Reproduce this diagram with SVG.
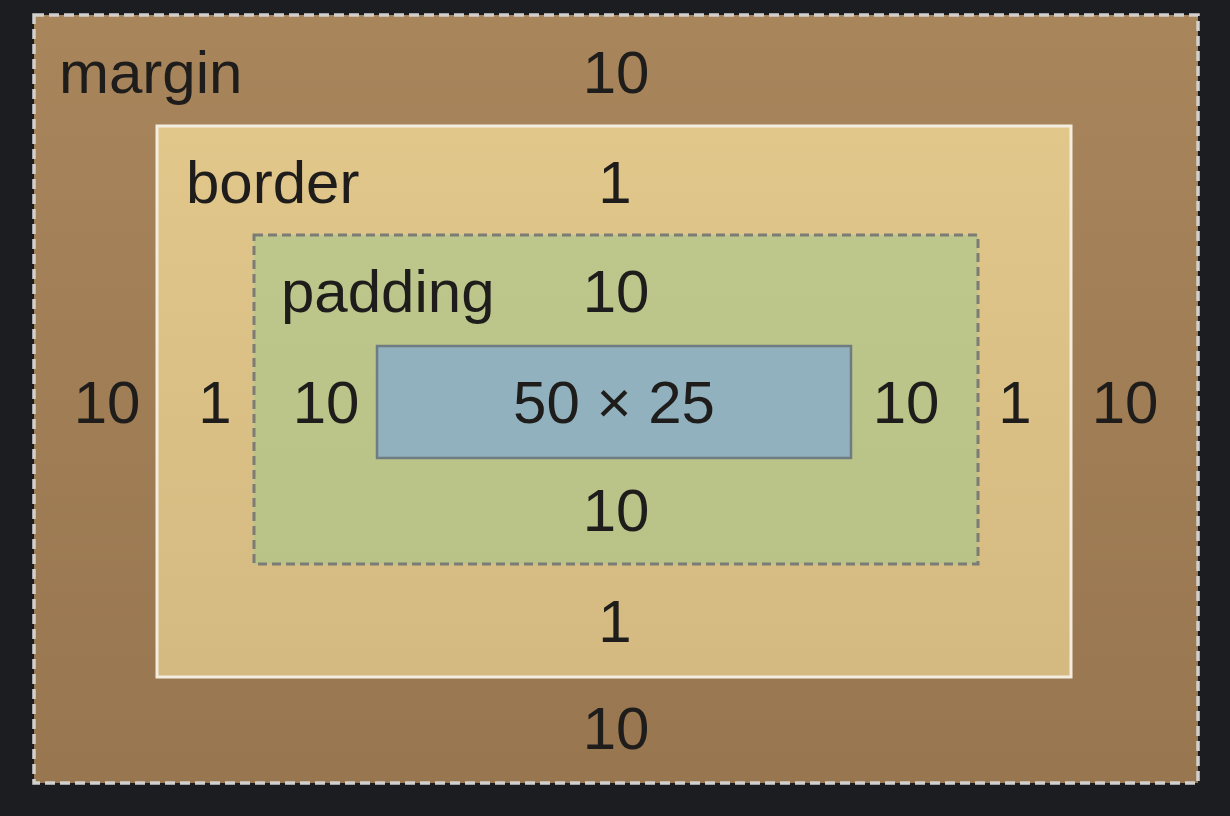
<svg xmlns="http://www.w3.org/2000/svg" width="1230" height="816" viewBox="0 0 1230 816">
  <defs>
    <linearGradient id="gMargin" x1="0" y1="0" x2="0" y2="1">
      <stop offset="0" stop-color="#a8855b"/>
      <stop offset="1" stop-color="#987650"/>
    </linearGradient>
    <linearGradient id="gBorder" x1="0" y1="0" x2="0" y2="1">
      <stop offset="0" stop-color="#e2c78b"/>
      <stop offset="1" stop-color="#d4b981"/>
    </linearGradient>
    <linearGradient id="gPadding" x1="0" y1="0" x2="0" y2="1">
      <stop offset="0" stop-color="#bec78b"/>
      <stop offset="1" stop-color="#bac387"/>
    </linearGradient>
  </defs>
  <style>
    text { font-family: "Liberation Sans", Arial, Helvetica, sans-serif; font-size: 60px; fill: #1e1d1b; }
    .c { text-anchor: middle; }
  </style>
  <rect x="0" y="0" width="1230" height="816" fill="#1c1d21"/>

  <g id="margin">
    <rect x="34" y="15" width="1164" height="768" fill="url(#gMargin)" stroke="#d2d0cc" stroke-width="3.5" stroke-dasharray="10 5"/>
    <text x="59" y="93">margin</text>
    <text class="c" x="616" y="93">10</text>
    <text class="c" x="107" y="423">10</text>
    <text class="c" x="1125" y="423">10</text>
    <text class="c" x="616" y="749">10</text>
  </g>

  <g id="border">
    <rect x="157" y="126" width="914" height="551" fill="url(#gBorder)" stroke="#f3ede0" stroke-width="3"/>
    <text x="186" y="203">border</text>
    <text class="c" x="615" y="203">1</text>
    <text class="c" x="215" y="423">1</text>
    <text class="c" x="1015" y="423">1</text>
    <text class="c" x="615" y="642">1</text>
  </g>

  <g id="padding">
    <rect x="254" y="235" width="724" height="329" fill="url(#gPadding)" stroke="#7b7c75" stroke-width="3" stroke-dasharray="9 5"/>
    <text x="281" y="312">padding</text>
    <text class="c" x="616" y="312">10</text>
    <text class="c" x="326" y="423">10</text>
    <text class="c" x="906" y="423">10</text>
    <text class="c" x="616" y="531">10</text>
  </g>

  <g id="content">
    <rect x="377" y="346" width="474" height="112" fill="#90b1bd" stroke="#6f7d80" stroke-width="2.5"/>
    <text class="c" x="614" y="423">50 × 25</text>
  </g>
</svg>
